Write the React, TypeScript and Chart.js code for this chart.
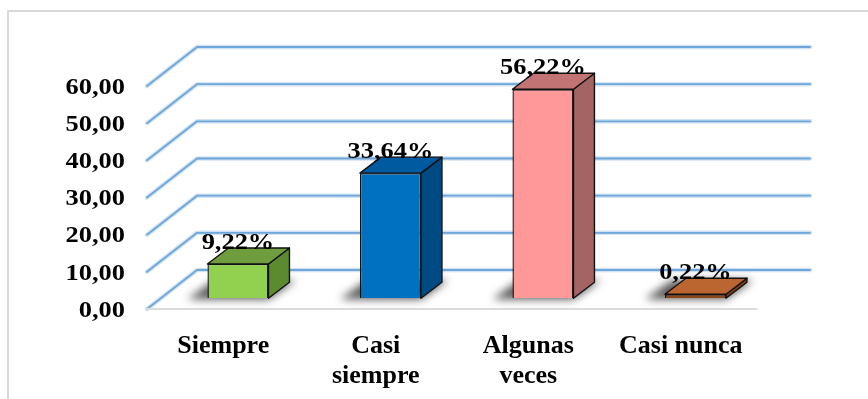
import React, { useEffect, useRef } from "react";
import { Chart, registerables } from "chart.js";

Chart.register(...registerables);

// Survey answers and the share of each one (%)
const categories: string[][] = [["Siempre"], ["Casi", "siempre"], ["Algunas", "veces"], ["Casi nunca"]];
const percentages: number[] = [9.22, 33.64, 56.22, 0.22];
const yTicks: number[] = [0, 10, 20, 30, 40, 50, 60];

// Face colours of each box: front, top, right side
const frontColors = ["#92d050", "#0070c0", "#ff9999", "#8a4518"];
const topColors = ["#6f9d3e", "#005aa0", "#c27373", "#bb6630"];
const sideColors = ["#5b8a2f", "#004a84", "#a56464", "#7d3e16"];

// Perspective offsets (px)
const FLOOR_DX = 14.7; // boxes sit a little behind the front edge of the floor
const FLOOR_DY = 10.8;
const BOX_DX = 21; // box depth
const BOX_DY = 16;
const WALL_DX = 50; // back wall depth
const WALL_DY = 39;

const FONT = '"Liberation Serif", "Times New Roman", serif';

const fmt = (v: number) => v.toFixed(2).replace(".", ",");

function stretchedText(ctx: CanvasRenderingContext2D, text: string, x: number, y: number, sx: number) {
  ctx.save();
  ctx.translate(x, y);
  ctx.scale(sx, 1);
  ctx.fillText(text, 0, 0);
  ctx.restore();
}

const boxes3d = {
  id: "boxes3d",
  beforeDraw(chart: any) {
    const ctx: CanvasRenderingContext2D = chart.ctx;
    ctx.save();
    ctx.fillStyle = "#ffffff";
    ctx.fillRect(0, 0, chart.width, chart.height);
    // outer frame
    ctx.strokeStyle = "#d9d9d9";
    ctx.lineWidth = 2;
    ctx.beginPath();
    ctx.moveTo(8, chart.height + 5);
    ctx.lineTo(8, 11);
    ctx.lineTo(chart.width + 5, 11);
    ctx.stroke();
    ctx.restore();
  },
  beforeDatasetsDraw(chart: any) {
    const ctx: CanvasRenderingContext2D = chart.ctx;
    const ca = chart.chartArea;
    const ys = chart.scales.y;

    // grid: slanted side-wall lines + back-wall lines
    ctx.save();
    ctx.lineCap = "round";
    ctx.lineJoin = "round";
    for (const v of yTicks) {
      const py = ys.getPixelForValue(v);
      const path = () => {
        ctx.beginPath();
        ctx.moveTo(ca.left, py);
        ctx.lineTo(ca.left + WALL_DX, py - WALL_DY);
        ctx.lineTo(ca.right + WALL_DX + 3, py - WALL_DY);
      };
      path();
      ctx.strokeStyle = "rgba(91,155,213,0.28)";
      ctx.lineWidth = 4.5;
      ctx.stroke();
      path();
      ctx.strokeStyle = "#6fa6da";
      ctx.lineWidth = 1.8;
      ctx.stroke();
    }
    // floor front edge
    const p0 = ys.getPixelForValue(0);
    ctx.strokeStyle = "#dcdcdc";
    ctx.lineWidth = 2;
    ctx.beginPath();
    ctx.moveTo(ca.left, p0);
    ctx.lineTo(ca.right, p0);
    ctx.stroke();
    ctx.restore();

    const meta = chart.getDatasetMeta(0);
    // soft shadows on the floor
    meta.data.forEach((bar: any) => {
      const { x, base, width } = bar.getProps(["x", "base", "width"], true);
      const L = x - width / 2 + FLOOR_DX;
      const R = x + width / 2 + FLOOR_DX;
      const b = base - FLOOR_DY;
      ctx.save();
      ctx.filter = "blur(4px)";
      ctx.fillStyle = "rgba(0,0,0,0.65)";
      ctx.beginPath();
      ctx.moveTo(L - 20, b + 1);
      ctx.lineTo(R, b + 1);
      ctx.lineTo(R + BOX_DX + 6, b - BOX_DY - 2);
      ctx.lineTo(L + BOX_DX - 14, b - BOX_DY - 2);
      ctx.closePath();
      ctx.fill();
      ctx.restore();
    });

    // top and side faces
    meta.data.forEach((bar: any, i: number) => {
      const { x, y, base, width } = bar.getProps(["x", "y", "base", "width"], true);
      const L = x - width / 2 + FLOOR_DX;
      const R = x + width / 2 + FLOOR_DX;
      const t = y - FLOOR_DY;
      const b = base - FLOOR_DY;
      ctx.save();
      ctx.lineJoin = "round";
      ctx.strokeStyle = "#111";
      ctx.lineWidth = 1.4;
      // side
      ctx.beginPath();
      ctx.moveTo(R, t);
      ctx.lineTo(R + BOX_DX, t - BOX_DY);
      ctx.lineTo(R + BOX_DX, b - BOX_DY);
      ctx.lineTo(R, b);
      ctx.closePath();
      ctx.fillStyle = sideColors[i];
      ctx.fill();
      ctx.stroke();
      // top
      ctx.beginPath();
      ctx.moveTo(L, t);
      ctx.lineTo(R, t);
      ctx.lineTo(R + BOX_DX, t - BOX_DY);
      ctx.lineTo(L + BOX_DX, t - BOX_DY);
      ctx.closePath();
      ctx.fillStyle = topColors[i];
      ctx.fill();
      ctx.stroke();
      ctx.restore();
    });
  },
  beforeDatasetDraw(chart: any) {
    chart.ctx.save();
    chart.ctx.translate(FLOOR_DX, -FLOOR_DY);
  },
  afterDatasetDraw(chart: any) {
    chart.ctx.restore();
  },
  afterDatasetsDraw(chart: any) {
    const ctx: CanvasRenderingContext2D = chart.ctx;
    const meta = chart.getDatasetMeta(0);
    ctx.save();
    ctx.fillStyle = "#000";
    ctx.font = `bold 24px ${FONT}`;
    ctx.textAlign = "center";
    ctx.textBaseline = "alphabetic";
    meta.data.forEach((bar: any, i: number) => {
      const { x, y } = bar.getProps(["x", "y"], true);
      stretchedText(ctx, fmt(percentages[i]) + "%", x + FLOOR_DX, y - FLOOR_DY - BOX_DY + 1, 1.1);
    });
    ctx.restore();
  },
  afterDraw(chart: any) {
    const ctx: CanvasRenderingContext2D = chart.ctx;
    const ca = chart.chartArea;
    const ys = chart.scales.y;
    const xs = chart.scales.x;
    ctx.save();
    ctx.fillStyle = "#000";
    // value axis
    ctx.font = `bold 24px ${FONT}`;
    ctx.textAlign = "right";
    ctx.textBaseline = "middle";
    for (const v of yTicks) {
      stretchedText(ctx, fmt(v), ca.left - 22, ys.getPixelForValue(v) + 1.5, 1.1);
    }
    // category axis
    ctx.font = `bold 26px ${FONT}`;
    ctx.textAlign = "center";
    ctx.textBaseline = "alphabetic";
    categories.forEach((lines, i) => {
      const cx = xs.getPixelForValue(i);
      lines.forEach((line, j) => {
        ctx.fillText(line, cx, ca.bottom + 44 + j * 30);
      });
    });
    ctx.restore();
  },
};

export default function App() {
  const canvasRef = useRef<HTMLCanvasElement | null>(null);

  useEffect(() => {
    if (!canvasRef.current) return;
    const chart = new Chart(canvasRef.current, {
      type: "bar",
      data: {
        labels: categories.map((c) => c.join(" ")),
        datasets: [
          {
            data: percentages,
            backgroundColor: frontColors,
            borderColor: "#111",
            borderWidth: 1.4,
            barPercentage: 0.4,
            categoryPercentage: 1,
            minBarLength: 4,
          },
        ],
      },
      options: {
        responsive: true,
        maintainAspectRatio: false,
        animation: false,
        layout: { padding: { left: 147, right: 111, top: 86, bottom: 90 } },
        plugins: { legend: { display: false }, tooltip: { enabled: false } },
        scales: {
          x: { display: false },
          y: { display: false, min: 0, max: 60 },
        },
      },
      plugins: [boxes3d],
    });
    return () => chart.destroy();
  }, []);

  return (
    <div style={{ position: "fixed", left: 0, top: 0, width: 868, height: 399, background: "#fff" }}>
      <canvas ref={canvasRef} style={{ display: "block" }} />
    </div>
  );
}
